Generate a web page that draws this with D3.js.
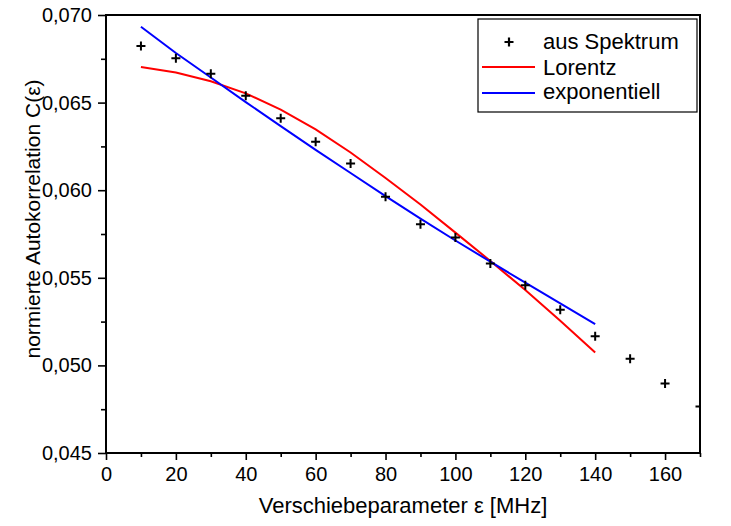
<!DOCTYPE html>
<html>
<head>
<meta charset="utf-8">
<script src="https://cdn.jsdelivr.net/npm/d3@7"></script>
<style>
  body { margin: 0; background: #fff; }
  svg { display: block; }
  text { font-family: "Liberation Sans", Arial, sans-serif; fill: #000; }
</style>
</head>
<body>
<svg id="chart" width="731" height="526"></svg>
<script>
// Measured autocorrelation vs. shift parameter
const shift = [10, 20, 30, 40, 50, 60, 70, 80, 90, 100, 110, 120, 130, 140, 150, 160, 170];
const spectrum = [0.06823, 0.06753, 0.06665, 0.06539, 0.06410, 0.06276, 0.06153, 0.05962,
                  0.05806, 0.05730, 0.05581, 0.05457, 0.05318, 0.05167, 0.05038, 0.04897, 0.04766];

// Fitted curves (evaluated at the fit abscissae)
const fitShift = [10, 20, 30, 40, 50, 60, 70, 80, 90, 100, 110, 120, 130, 140];
const lorentz = [0.06703, 0.06672, 0.06622, 0.06553, 0.06460, 0.06347, 0.06215, 0.06070,
                 0.05918, 0.05758, 0.05596, 0.05430, 0.05255, 0.05073];
const exponential = [0.06933, 0.06783, 0.06643, 0.06503, 0.06366, 0.06230, 0.06098, 0.05966,
                     0.05838, 0.05713, 0.05592, 0.05472, 0.05354, 0.05236];

// Axis ticks
const xMajorTicks = [0, 20, 40, 60, 80, 100, 120, 140, 160];
const xMinorTicks = [10, 30, 50, 70, 90, 110, 130, 150, 170];
const yMajorTicks = [0.045, 0.050, 0.055, 0.060, 0.065, 0.070];
const yMinorTicks = [0.0475, 0.0525, 0.0575, 0.0625, 0.0675];

const legendLabels = ["aus Spektrum", "Lorentz", "exponentiell"];
const lineColors = { lorentz: "#ff0000", exponential: "#0000ff" };

const svg = d3.select("#chart");
const W = 731, H = 526;
const margin = { top: 15, right: 31, bottom: 73, left: 106 };
const innerW = W - margin.left - margin.right;
const innerH = H - margin.top - margin.bottom;

const x = d3.scaleLinear().domain([0, 170]).range([margin.left, margin.left + innerW]);
const y = d3.scaleLinear().domain([0.045, 0.070]).range([margin.top + innerH, margin.top]);

const fmtY = v => d3.format(".3f")(v).replace(".", ",");

// clip for the plot area
svg.append("defs").append("clipPath").attr("id", "plotClip")
  .append("rect").attr("x", margin.left).attr("y", margin.top)
  .attr("width", innerW).attr("height", innerH);

// Fit lines
const line = d3.line().x((d, i) => x(fitShift[i])).y(d => y(d));
const plot = svg.append("g").attr("clip-path", "url(#plotClip)");
plot.append("path").datum(lorentz).attr("d", line)
  .attr("fill", "none").attr("stroke", lineColors.lorentz).attr("stroke-width", 2);
plot.append("path").datum(exponential).attr("d", line)
  .attr("fill", "none").attr("stroke", lineColors.exponential).attr("stroke-width", 2);

// Data crosses
const cross = s => `M${-s},0H${s}M0,${-s}V${s}`;
plot.selectAll("path.pt").data(spectrum).join("path").attr("class", "pt")
  .attr("transform", (d, i) => `translate(${x(shift[i])},${y(d)})`)
  .attr("d", cross(4.5)).attr("stroke", "#000").attr("stroke-width", 2).attr("fill", "none");

// Axes
const axisStyle = g => {
  g.selectAll(".domain").remove();
  g.selectAll(".tick line").attr("stroke", "#000").attr("stroke-width", 1.6);
  g.selectAll("text").attr("font-size", 20).attr("font-family", '"Liberation Sans", Arial, sans-serif');
};

svg.append("g").attr("transform", `translate(0,${margin.top + innerH})`)
  .call(d3.axisBottom(x).tickValues(xMajorTicks).tickSize(7).tickPadding(7).tickFormat(d3.format("d")))
  .call(axisStyle);
svg.append("g").attr("transform", `translate(0,${margin.top + innerH})`)
  .call(d3.axisBottom(x).tickValues(xMinorTicks).tickSize(4).tickFormat(""))
  .call(axisStyle);

svg.append("g").attr("transform", `translate(${margin.left},0)`)
  .call(d3.axisLeft(y).tickValues(yMajorTicks).tickSize(8).tickPadding(6).tickFormat(fmtY))
  .call(axisStyle);
svg.append("g").attr("transform", `translate(${margin.left},0)`)
  .call(d3.axisLeft(y).tickValues(yMinorTicks).tickSize(5).tickFormat(""))
  .call(axisStyle);

// Frame
svg.append("rect")
  .attr("x", margin.left).attr("y", margin.top)
  .attr("width", innerW).attr("height", innerH)
  .attr("fill", "none").attr("stroke", "#000").attr("stroke-width", 2);

// Axis titles
svg.append("text")
  .attr("x", margin.left + innerW / 2).attr("y", 513)
  .attr("text-anchor", "middle").attr("font-size", 22)
  .text("Verschiebeparameter ε [MHz]");
svg.append("text")
  .attr("transform", "translate(40,219) rotate(-90)")
  .attr("text-anchor", "middle").attr("font-size", 21)
  .text("normierte Autokorrelation C(ε)");

// Legend
const lg = svg.append("g");
lg.append("rect").attr("x", 478).attr("y", 19).attr("width", 219).attr("height", 93)
  .attr("fill", "#fff").attr("stroke", "#000").attr("stroke-width", 1.2);
const rows = [49, 75, 99];
lg.append("path").attr("transform", `translate(509,${rows[0] - 7})`)
  .attr("d", cross(4.5)).attr("stroke", "#000").attr("stroke-width", 2.2);
lg.append("line").attr("x1", 482).attr("x2", 535).attr("y1", rows[1] - 8).attr("y2", rows[1] - 8)
  .attr("stroke", lineColors.lorentz).attr("stroke-width", 2);
lg.append("line").attr("x1", 482).attr("x2", 535).attr("y1", rows[2] - 6).attr("y2", rows[2] - 6)
  .attr("stroke", lineColors.exponential).attr("stroke-width", 2);
lg.selectAll("text.lab").data(legendLabels).join("text").attr("class", "lab")
  .attr("x", 543).attr("y", (d, i) => rows[i]).attr("font-size", 22).text(d => d);
</script>
</body>
</html>
